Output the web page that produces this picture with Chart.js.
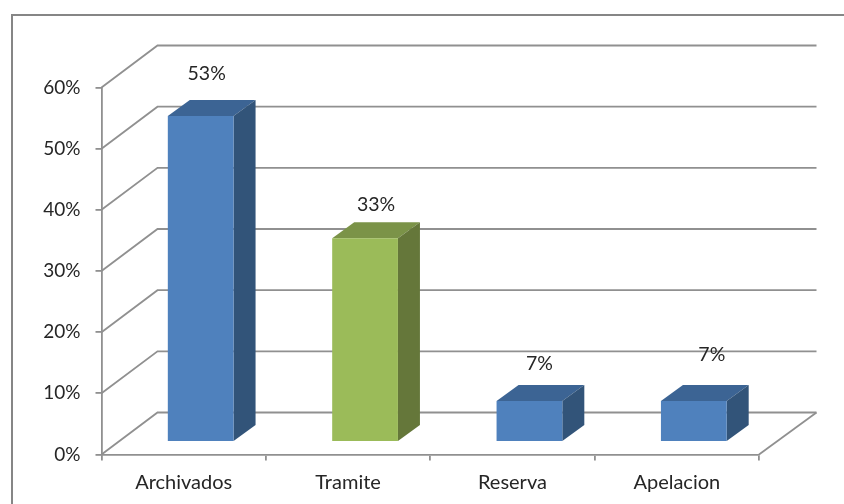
<!DOCTYPE html>
<html>
<head>
<meta charset="utf-8">
<style>
  html, body { margin: 0; padding: 0; background: #fff; overflow: hidden; }
  canvas { display: block; }
</style>
<script src="https://cdn.jsdelivr.net/npm/chart.js@4"></script>
</head>
<body>
<canvas id="chart" width="844" height="504"></canvas>
<script>
// Data
const categories = ['Archivados', 'Tramite', 'Reserva', 'Apelacion'];
const percentValues = [53.3, 33.3, 6.7, 6.7];
const yTicks = [0, 10, 20, 30, 40, 50, 60];

// Colours per bar: front, top, side
const frontColors = ['#4f81bd', '#9bbb59', '#4f81bd', '#4f81bd'];
const topColors = ['#3c6494', '#7b9348', '#3c6494', '#3c6494'];
const sideColors = ['#325479', '#65773a', '#325479', '#325479'];

// Fake 3D geometry
const wallDx = 56, wallDy = -42;     // floor depth
const wallExtra = 1.5;               // back wall runs a bit past the floor corner
const barShiftX = 17, barShiftY = -12.5; // bar front plane
const barDx = 22, barDy = -16;       // bar depth
const labelNudge = [[6, -26], [11, -18], [10, -21], [18, -30]];

const lineColor = '#909090';
const textColor = '#262626';
const fontFamily = 'Lato, "Open Sans", sans-serif';

const face = (ctx, pts, color) => {
   ctx.beginPath();
   pts.forEach((p, i) => i ? ctx.lineTo(p[0], p[1]) : ctx.moveTo(p[0], p[1]));
   ctx.closePath();
   ctx.fillStyle = color;
   ctx.fill();
};

// Frame, side wall and back wall lines
const wallPlugin = {
   id: 'wall',
   beforeDraw(chart) {
      const { ctx, chartArea: a, scales: { y } } = chart;
      ctx.save();
      ctx.strokeStyle = '#868686';
      ctx.lineWidth = 2;
      ctx.strokeRect(12, 15, 950, 600);

      ctx.strokeStyle = lineColor;
      ctx.lineWidth = 1.8;
      yTicks.forEach(t => {
         const py = y.getPixelForValue(t);
         ctx.beginPath();
         ctx.moveTo(a.left, py);
         ctx.lineTo(a.left + wallDx, py + wallDy);
         ctx.lineTo(a.right + wallDx + wallExtra, py + wallDy);
         ctx.stroke();
      });
      ctx.beginPath();
      ctx.moveTo(a.right, a.bottom);
      ctx.lineTo(a.right + wallDx + wallExtra, a.bottom + wallDy);
      ctx.stroke();
      ctx.restore();
   }
};

// Moves the bars onto their plane and adds top and side faces
const bar3dPlugin = {
   id: 'bar3d',
   beforeDatasetDraw(chart, args) {
      const { ctx } = chart;
      ctx.save();
      ctx.translate(barShiftX, barShiftY);
      args.meta.data.forEach((bar, i) => {
         const l = bar.x - bar.width / 2, r = bar.x + bar.width / 2;
         const t = bar.y, b = bar.base;
         face(ctx, [[l, t], [r, t], [r + barDx, t + barDy], [l + barDx, t + barDy]], topColors[i]);
         face(ctx, [[r, t], [r + barDx, t + barDy], [r + barDx, b + barDy], [r, b]], sideColors[i]);
      });
   },
   afterDatasetDraw(chart) {
      chart.ctx.restore();
   },
   afterDraw(chart) {
      const { ctx } = chart;
      const meta = chart.getDatasetMeta(0);
      ctx.save();
      ctx.font = '19.5px ' + fontFamily;
      ctx.fillStyle = textColor;
      ctx.textAlign = 'center';
      ctx.textBaseline = 'middle';
      meta.data.forEach((bar, i) => {
         const top = bar.y + barShiftY + barDy;
         ctx.fillText(Math.round(percentValues[i]) + '%', bar.x + barShiftX + labelNudge[i][0], top + labelNudge[i][1]);
      });
      ctx.restore();
   }
};

new Chart(document.getElementById('chart'), {
   type: 'bar',
   data: {
      labels: categories,
      datasets: [{
         data: percentValues,
         backgroundColor: frontColors,
         borderWidth: 0,
         categoryPercentage: 0.4,
         barPercentage: 1,
         clip: false
      }]
   },
   options: {
      responsive: false,
      animation: false,
      layout: { padding: { left: 0, top: 87.5, right: 85, bottom: 0 } },
      plugins: { legend: { display: false }, tooltip: { enabled: false } },
      scales: {
         x: {
            afterFit: s => { s.height = 49.5; },
            border: { color: lineColor, width: 1.8 },
            grid: { drawOnChartArea: false, color: lineColor, lineWidth: 1.8, tickLength: 6 },
            ticks: { color: textColor, font: { family: fontFamily, size: 20 }, padding: 10, maxRotation: 0 }
         },
         y: {
            min: 0,
            max: 60,
            afterFit: s => { s.width = 101.5; },
            afterBuildTicks: s => { s.ticks = yTicks.map(v => ({ value: v })); },
            border: { color: lineColor, width: 1.8 },
            grid: { drawOnChartArea: false, color: lineColor, lineWidth: 1.8, tickLength: 6 },
            ticks: {
               color: textColor,
               font: { family: fontFamily, size: 19 },
               padding: 15,
               callback: v => v + '%'
            }
         }
      }
   },
   plugins: [wallPlugin, bar3dPlugin]
});
</script>
</body>
</html>
